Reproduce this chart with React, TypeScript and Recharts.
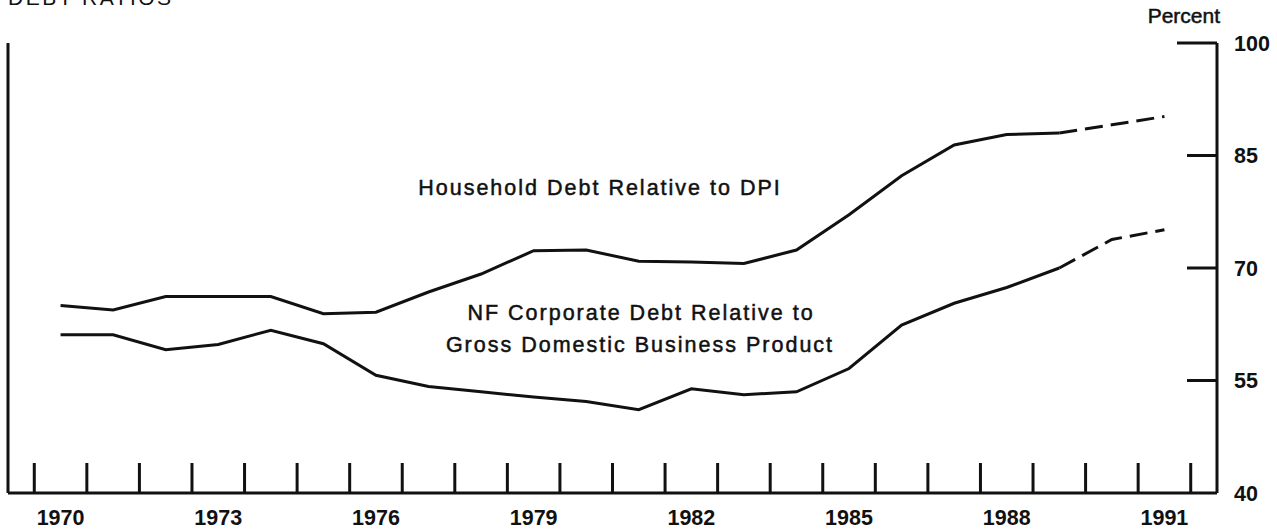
import { LineChart, Line, XAxis, YAxis } from "recharts";

const YEARS = [
  1970, 1971, 1972, 1973, 1974, 1975, 1976, 1977, 1978, 1979, 1980,
  1981, 1982, 1983, 1984, 1985, 1986, 1987, 1988, 1989, 1990, 1991,
];
const HOUSEHOLD = [
  65.0, 64.4, 66.2, 66.2, 66.2, 63.9, 64.1, 66.8, 69.2, 72.3, 72.4,
  70.9, 70.8, 70.6, 72.4, 77.1, 82.3, 86.4, 87.8, 88.0, 89.1, 90.2,
];
const CORPORATE = [
  61.1, 61.1, 59.1, 59.8, 61.7, 59.9, 55.7, 54.2, 53.5, 52.8, 52.2,
  51.1, 53.9, 53.1, 53.5, 56.6, 62.4, 65.3, 67.4, 70.0, 73.8, 75.1,
];
// after this year the series are projections (dashed)
const LAST_ACTUAL = 1989;
const YEAR_LABELS = [1970, 1973, 1976, 1979, 1982, 1985, 1988, 1991];
const Y_TICKS = [40, 55, 70, 85, 100];

const FONT = "'Liberation Sans', Arial, Helvetica, sans-serif";
const INK = "#111";

const data = YEARS.map((year, i) => ({
  year,
  hh: year <= LAST_ACTUAL ? HOUSEHOLD[i] : null,
  hhProj: year >= LAST_ACTUAL ? HOUSEHOLD[i] : null,
  corp: year <= LAST_ACTUAL ? CORPORATE[i] : null,
  corpProj: year >= LAST_ACTUAL ? CORPORATE[i] : null,
}));

// tick marks sit on the year boundaries, labels in the middle of the year
const boundaries = [...YEARS.map((y) => y - 0.5), YEARS[YEARS.length - 1] + 0.5];
const xTicks = [...boundaries, ...YEAR_LABELS].sort((a, b) => a - b);

function XTick(props: any) {
  const { x, y, payload } = props;
  const v = payload.value;
  if (Number.isInteger(v)) {
    return (
      <text x={x} y={y + 32} textAnchor="middle" fontFamily={FONT} fontSize={21.5} fontWeight={700} fill={INK}>
        {v}
      </text>
    );
  }
  return <line x1={x} x2={x} y1={y} y2={y - 30} stroke={INK} strokeWidth={3} />;
}

function RightTick(props: any) {
  const { x, y, payload } = props;
  const v = payload.value;
  const len = v === 100 ? 40 : 30;
  return (
    <g>
      {v !== 40 && <line x1={x - len} x2={x} y1={y} y2={y} stroke={INK} strokeWidth={3} />}
      <text x={x + 17} y={y} dy="0.36em" textAnchor="start" fontFamily={FONT} fontSize={21.5} fontWeight={700} fill={INK}>
        {v}
      </text>
    </g>
  );
}

function LeftTick(props: any) {
  const { x, y, payload } = props;
  const v = payload.value;
  if (v === 40) return <g />;
  const len = v === 100 ? 40 : 30;
  return <line x1={x} x2={x + len} y1={y} y2={y} stroke={INK} strokeWidth={3} />;
}

const note = { fontFamily: FONT, fontSize: 21.5, letterSpacing: 2, fill: INK, stroke: INK, strokeWidth: 0.5 };

export default function App() {
  return (
    <div style={{ position: "absolute", left: 0, top: 0, width: 1277, height: 529, background: "#fff", overflow: "hidden" }}>
      <LineChart width={1277} height={529} data={data} margin={{ top: 43, right: 0, bottom: 0, left: 0 }}>
        <XAxis
          dataKey="year"
          type="number"
          domain={[1969, 1992]}
          ticks={xTicks}
          interval={0}
          height={36}
          tickLine={false}
          tickSize={0}
          tickMargin={0}
          tick={XTick}
          axisLine={{ stroke: INK, strokeWidth: 3 }}
        />
        <YAxis
          yAxisId="left"
          orientation="left"
          width={8}
          domain={[40, 100]}
          ticks={Y_TICKS}
          interval={0}
          tickLine={false}
          tickSize={0}
          tickMargin={0}
          tick={LeftTick}
          axisLine={{ stroke: INK, strokeWidth: 3 }}
        />
        <YAxis
          yAxisId="right"
          orientation="right"
          width={60}
          domain={[40, 100]}
          ticks={Y_TICKS}
          interval={0}
          tickLine={false}
          tickSize={0}
          tickMargin={0}
          tick={RightTick}
          axisLine={{ stroke: INK, strokeWidth: 3 }}
        />
        <Line yAxisId="right" type="linear" dataKey="hh" stroke={INK} strokeWidth={3} dot={false} isAnimationActive={false} />
        <Line yAxisId="right" type="linear" dataKey="hhProj" stroke={INK} strokeWidth={3} strokeDasharray="18 8" dot={false} isAnimationActive={false} />
        <Line yAxisId="right" type="linear" dataKey="corp" stroke={INK} strokeWidth={3} dot={false} isAnimationActive={false} />
        <Line yAxisId="right" type="linear" dataKey="corpProj" stroke={INK} strokeWidth={3} strokeDasharray="18 8" dot={false} isAnimationActive={false} />
      </LineChart>
      <svg width={1277} height={529} style={{ position: "absolute", left: 0, top: 0, pointerEvents: "none" }}>
        <text x={8} y={5} fontFamily={FONT} fontSize={21} letterSpacing={2.5} fill={INK}>DEBT RATIOS</text>
        <text x={1220} y={23} textAnchor="end" fontFamily={FONT} fontSize={21} fill={INK} stroke={INK} strokeWidth={0.5}>Percent</text>
        <text x={600} y={195} textAnchor="middle" {...note}>
          Household Debt Relative to DPI
        </text>
        <text x={641} y={320} textAnchor="middle" {...note}>
          NF Corporate Debt Relative to
        </text>
        <text x={640} y={352} textAnchor="middle" {...note}>
          Gross Domestic Business Product
        </text>
      </svg>
    </div>
  );
}
